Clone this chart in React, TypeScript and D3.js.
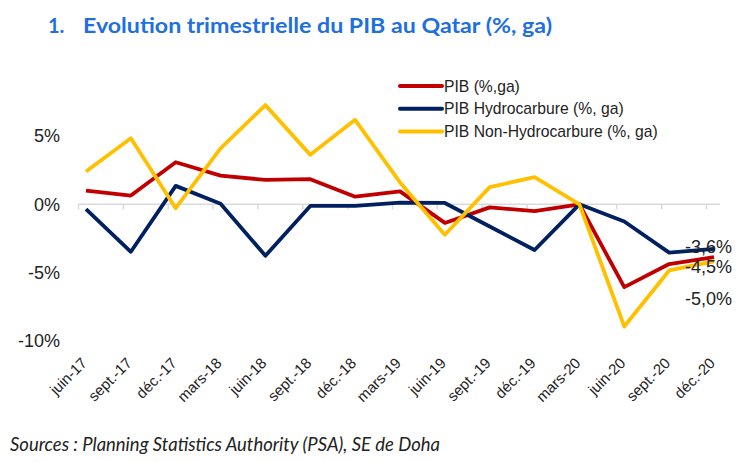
import React from "react";
import * as d3 from "d3";

const categories = ["juin-17", "sept.-17", "déc.-17", "mars-18", "juin-18", "sept.-18", "déc.-18", "mars-19", "juin-19", "sept.-19", "déc.-19", "mars-20", "juin-20", "sept.-20", "déc.-20"];
const pib = [1.0, 0.64, 3.08, 2.1, 1.79, 1.84, 0.56, 0.95, -1.36, -0.22, -0.5, 0, -6.06, -4.37, -3.86];
const hydro = [-0.35, -3.47, 1.35, 0.04, -3.76, -0.12, -0.12, 0.12, 0.1, -1.62, -3.34, 0, -1.26, -3.53, -3.26];
const nonHydro = [2.4, 4.83, -0.28, 4.1, 7.26, 3.62, 6.18, 1.6, -2.23, 1.26, 1.99, 0, -8.94, -4.84, -4.18];
const yTicks = [5, 0, -5, -10];
const seriesNames = ["PIB (%,ga)", "PIB Hydrocarbure (%, ga)", "PIB Non-Hydrocarbure (%, ga)"];
const endLabels = ["-4,5%", "-3,6%", "-5,0%"];

const colors = ["#C00000", "#002060", "#FFC000"];

export default function App() {
  const W = 739, H = 462;
  const x = d3.scalePoint<string>().domain(categories).range([86, 714]);
  const y = d3.scaleLinear().domain([-10, 5]).range([341, 136]);
  const line = d3.line<number>().x((_, i) => x(categories[i]) as number).y((d) => y(d));
  const series = [pib, hydro, nonHydro];
  const last = categories[categories.length - 1];
  const lastX = x(last) as number;
  // offsets of end labels from the last point of each series (pixels)
  const endOffsets = [10, -2, 37];
  const font = "'Liberation Sans', Arial, sans-serif";

  return (
    <svg width={W} height={H} style={{ position: "absolute", left: 0, top: 0, background: "#fff" }}>
      <text x={48} y={33} fontFamily="Lato, 'Open Sans', sans-serif" fontWeight={700} fontSize={20} fill="#1E6FDF">
        <tspan>1.</tspan>
        <tspan x={83} textLength={469} lengthAdjust="spacingAndGlyphs">Evolution trimestrielle du PIB au Qatar (%, ga)</tspan>
      </text>

      {/* zero axis */}
      <line x1={(x(categories[0]) as number) - 8} x2={lastX + 6} y1={y(0)} y2={y(0)} stroke="#D9D9D9" strokeWidth={1.5} />
      {categories.map((c) => (
        <line key={c} x1={(x(c) as number) - 7.5} x2={(x(c) as number) - 7.5} y1={y(0)} y2={y(0) + 5} stroke="#D9D9D9" strokeWidth={1.5} />
      ))}

      {yTicks.map((t) => (
        <text key={t} x={60} y={y(t)} dy="0.35em" textAnchor="end" fontFamily={font} fontSize={18} fill="#222">
          {t + "%"}
        </text>
      ))}

      {categories.map((c) => (
        <text key={c} transform={`translate(${(x(c) as number) + 2},${364}) rotate(-45)`} textAnchor="end" fontFamily={font} fontSize={15} fill="#222">
          {c}
        </text>
      ))}

      {series.map((s, i) => (
        <path key={i} d={line(s) as string} fill="none" stroke={colors[i]} strokeWidth={3.8} strokeLinejoin="round" />
      ))}

      {series.map((s, i) => (
        <text key={i} x={685} y={y(s[s.length - 1]) + endOffsets[i]} dy="0.35em" fontFamily={font} fontSize={18} fill="#222">
          {endLabels[i]}
        </text>
      ))}

      {seriesNames.map((n, i) => (
        <g key={n} transform={`translate(400,${86 + i * 22.8})`}>
          <line x1={0} x2={42} y1={0} y2={0} stroke={colors[i]} strokeWidth={4} strokeLinecap="round" />
          <text x={44} y={0} dy="0.35em" fontFamily={font} fontSize={15.7} fill="#222">{n}</text>
        </g>
      ))}

      <text x={10} y={451} fontFamily="Lato, 'Open Sans', sans-serif" fontStyle="italic" fontSize={18.5} fill="#222" textLength={430} lengthAdjust="spacingAndGlyphs">
        Sources : Planning Statistics Authority (PSA), SE de Doha
      </text>
    </svg>
  );
}
